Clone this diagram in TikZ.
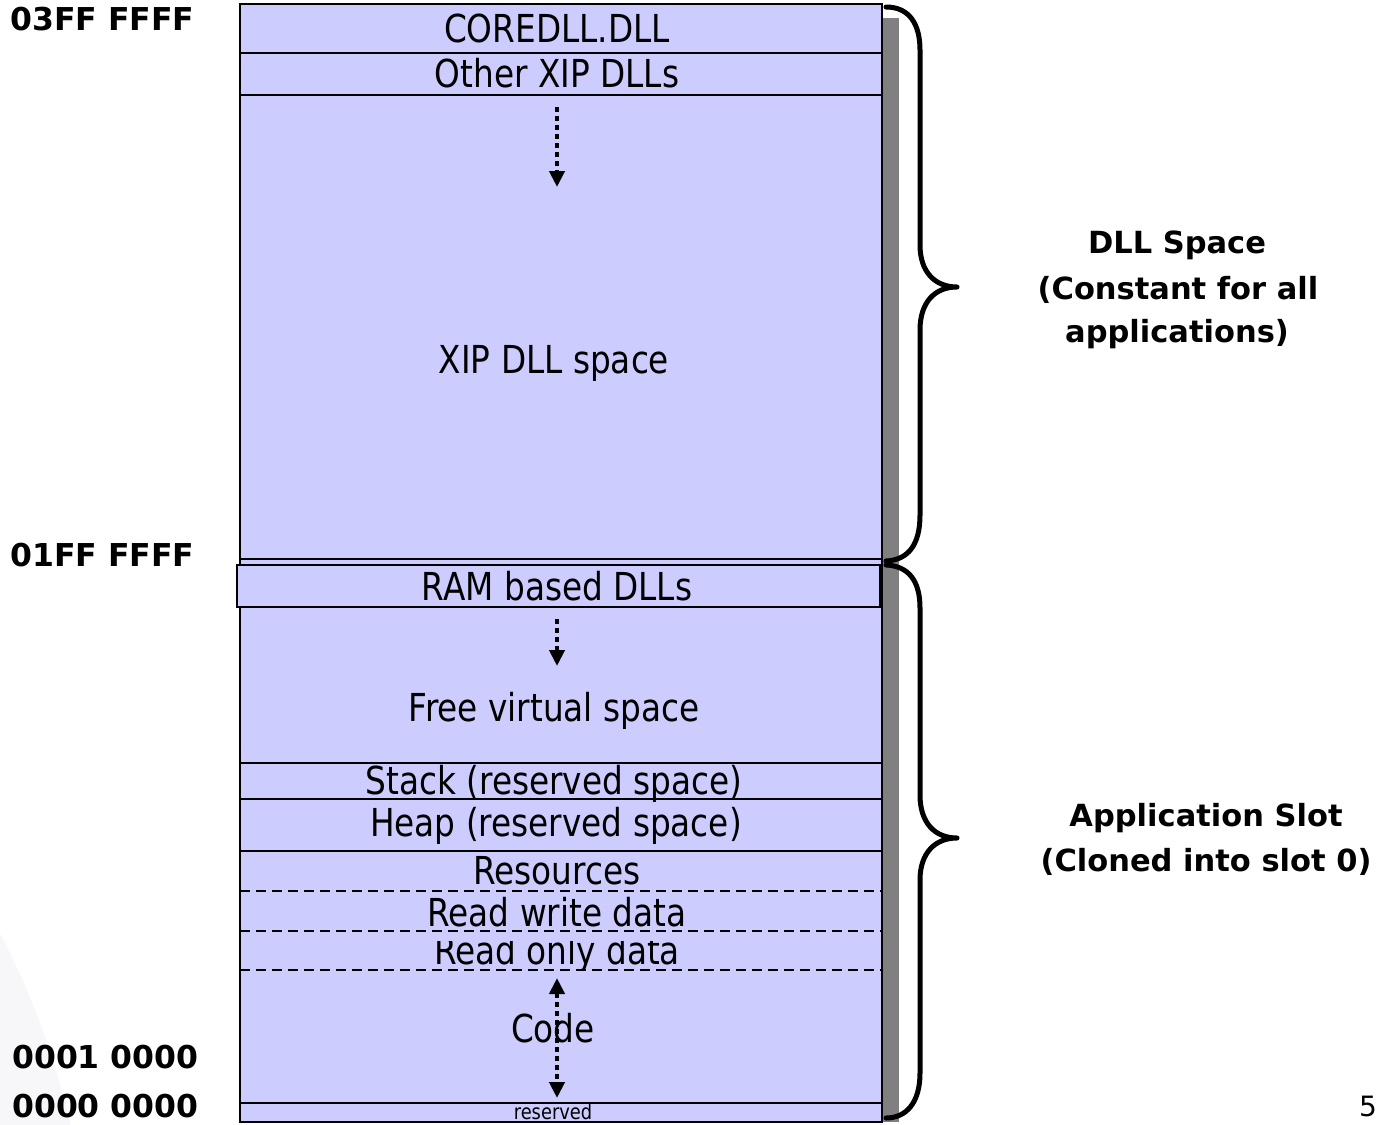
\documentclass[tikz,border=0pt]{standalone}
\usepackage{fontspec}
\usetikzlibrary{arrows.meta}
\newfontfamily\boxfont{DejaVu Sans}[FakeStretch=0.85]
\newfontfamily\labfont{DejaVu Sans}
\definecolor{lav}{RGB}{204,204,255}
\definecolor{shadowgray}{RGB}{128,128,128}
\definecolor{bgfaint}{RGB}{247,247,250}
\tikzset{
 region/.style={draw=black, line width=2.8, fill=lav},
 boxlabel/.style={anchor=base, inner sep=0, font=\boxfont\fontsize{38.5}{44}\selectfont},
 smalllabel/.style={anchor=base, inner sep=0, font=\boxfont\fontsize{21}{24}\selectfont},
 addrlabel/.style={anchor=base west, inner sep=0, font=\labfont\bfseries\fontsize{31.5}{36}\selectfont},
 sidelabel/.style={anchor=base, inner sep=0, font=\labfont\bfseries\fontsize{30.5}{36}\selectfont},
 divider/.style={line width=2.8},
 dashdivider/.style={line width=2.8, dash pattern=on 10 off 6},
 growarrow/.style={line width=4.5, dash pattern=on 5 off 4, -{Triangle[width=15,length=16]}},
 bothgrow/.style={line width=4.5, dash pattern=on 5 off 4, {Triangle[width=15,length=16]}-{Triangle[width=15,length=16]}},
 bracepath/.style={line width=5, line cap=round, line join=round},
}
\begin{document}
\begin{tikzpicture}[x=1pt,y=-1pt]
\useasboundingbox (0,0) rectangle (1383,1124);
% faint background shape
\fill[bgfaint] (-700,1300) circle (790);
% shadow
\fill[shadowgray] (883,18) rectangle (899,1122);
% main column
\draw[region] (240,4) rectangle (882,1122);
\draw[divider] (240,53) -- (882,53);
\draw[divider] (240,95) -- (882,95);
\draw[divider] (240,559) -- (882,559);
\draw[region] (237,565) rectangle (880,607);
\draw[divider] (240,763) -- (882,763);
\draw[divider] (240,799) -- (882,799);
\draw[divider] (240,851) -- (882,851);
\draw[dashdivider] (240,891) -- (882,891);
\draw[dashdivider] (240,931) -- (882,931);
\draw[dashdivider] (240,970) -- (882,970);
\draw[divider] (240,1103) -- (882,1103);
% box labels
\node[boxlabel] (core) at (557,42) {COREDLL.DLL};
\node[boxlabel] (other) at (557,87) {Other XIP DLLs};
\node[boxlabel] (xip) at (554,373) {XIP DLL space};
\node[boxlabel] (ram) at (557,600) {RAM based DLLs};
\node[boxlabel] (free) at (554,721) {Free virtual space};
\node[boxlabel] (stack) at (554,794) {Stack (reserved space)};
\node[boxlabel] (heap) at (556,836) {Heap (reserved space)};
\node[boxlabel] (res) at (557,884) {Resources};
\node[boxlabel] (rw) at (557,926) {Read write data};
\begin{scope}
\clip (242,941) rectangle (880,968);
\node[boxlabel] (ro) at (557,964) {Read only data};
\end{scope}
\node[boxlabel] (code) at (553,1042) {Code};
\node[smalllabel] (rsv) at (553,1119) {reserved};
% arrows
\coordinate (a1s) at (557,107);
\coordinate (a1e) at (557,187);
\draw[growarrow] (a1s) -- (a1e);
\coordinate (a2s) at (557,619);
\coordinate (a2e) at (557,666);
\draw[growarrow] (a2s) -- (a2e);
\coordinate (a3s) at (557,978);
\coordinate (a3e) at (557,1098);
\draw[bothgrow] (a3s) -- (a3e);
% address labels
\node[addrlabel] (ad1) at (10,31) {03FF FFFF};
\node[addrlabel] (ad2) at (10,566) {01FF FFFF};
\node[addrlabel] (ad3) at (12,1068) {0001 0000};
\node[addrlabel] (ad4) at (12,1117) {0000 0000};
% braces
\draw[bracepath] (886,7) .. controls (910,7) and (920,25) .. (920,50) -- (920,245)
  .. controls (920,272) and (935,287) .. (957,287)
  .. controls (935,287) and (920,302) .. (920,330) -- (920,515)
  .. controls (920,545) and (908,560) .. (886,561);
\draw[bracepath] (886,565) .. controls (908,566) and (920,580) .. (920,608) -- (920,795)
  .. controls (920,823) and (935,838) .. (957,838)
  .. controls (935,838) and (920,853) .. (920,880) -- (920,1073)
  .. controls (920,1103) and (906,1118) .. (886,1118);
% side labels
\node[sidelabel] (s1) at (1177,253) {DLL Space};
\node[sidelabel] (s2) at (1178,299) {(Constant for all};
\node[sidelabel] (s3) at (1177,342) {applications)};
\node[sidelabel] (s4) at (1206,826) {Application Slot};
\node[sidelabel] (s5) at (1206,871) {(Cloned into slot 0)};
% page number
\node[anchor=base west, inner sep=0, font=\labfont\fontsize{28}{34}\selectfont] (pg) at (1359,1116) {5};
\end{tikzpicture}
\end{document}
